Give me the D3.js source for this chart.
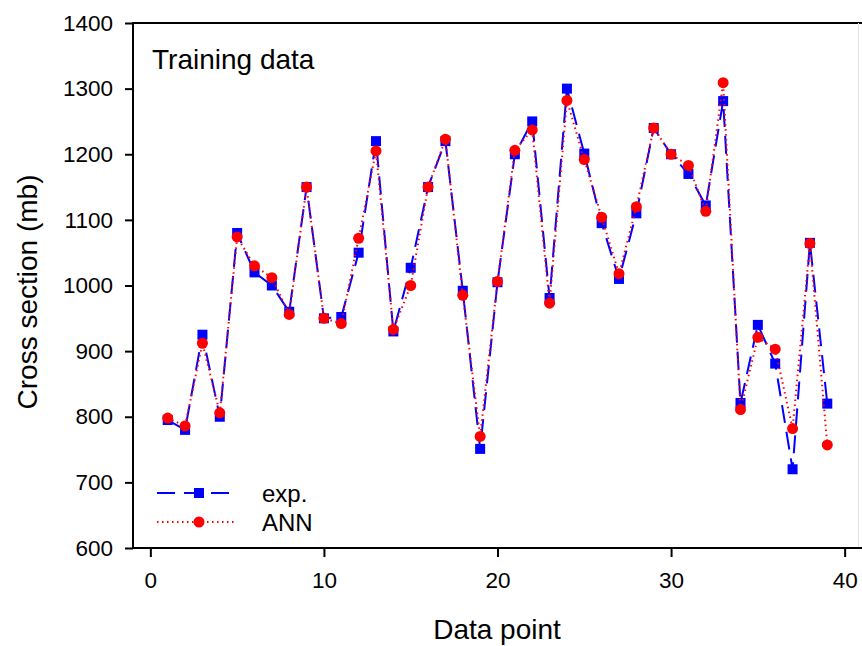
<!DOCTYPE html>
<html>
<head>
<meta charset="utf-8">
<script src="https://cdn.jsdelivr.net/npm/d3@7/dist/d3.min.js"></script>
<style>
  html, body { margin: 0; padding: 0; background: #fff; }
  svg { display: block; font-family: "Liberation Sans", Arial, sans-serif; }
</style>
</head>
<body>
<svg id="chart" width="862" height="646"></svg>
<script>
const dataPoints = d3.range(1, 40);
const expValues = [795, 780, 925, 800, 1080, 1020, 1000, 960, 1150, 950,
                   952, 1050, 1220, 930, 1027, 1150, 1220, 992, 751, 1005,
                   1200, 1250, 981, 1300, 1201, 1095, 1010, 1110, 1240, 1200,
                   1170, 1122, 1281, 821, 940, 881, 720, 1065, 820];
const annValues = [798, 786, 912, 806, 1074, 1030, 1012, 956, 1150, 950,
                   942, 1072, 1205, 933, 1000, 1150, 1223, 985, 770, 1006,
                   1206, 1237, 973, 1282, 1192, 1104, 1018, 1120, 1240, 1200,
                   1183, 1113, 1309, 811, 921, 903, 782, 1064, 757];
const xTicks = [0, 10, 20, 30, 40];
const yTicks = [600, 700, 800, 900, 1000, 1100, 1200, 1300, 1400];
const seriesNames = ["exp.", "ANN"];

const svg = d3.select("#chart");
const pLeft = 133, pRight = 862, pTop = 23, pBottom = 548;

const x = d3.scaleLinear().domain([-1, 41]).range([pLeft, pRight]);
const y = d3.scaleLinear().domain([600, 1400]).range([pBottom, pTop]);

// frame (top + faint right)
svg.append("line").attr("x1", pLeft).attr("x2", pRight).attr("y1", pTop).attr("y2", pTop)
  .attr("stroke", "#000").attr("stroke-width", 2);
svg.append("line").attr("x1", 858.5).attr("x2", 858.5).attr("y1", pTop).attr("y2", pBottom)
  .attr("stroke", "#e2e2e2").attr("stroke-width", 1);

// axes
const xAxis = svg.append("g").attr("transform", `translate(0,${pBottom})`)
  .call(d3.axisBottom(x).tickValues(xTicks).tickFormat(d3.format("d"))
    .tickSize(9).tickPadding(15).tickSizeOuter(0));
const yAxis = svg.append("g").attr("transform", `translate(${pLeft},0)`)
  .call(d3.axisLeft(y).tickValues(yTicks).tickFormat(d3.format("d"))
    .tickSize(8).tickPadding(12).tickSizeOuter(0));
[xAxis, yAxis].forEach(g => {
  g.select(".domain").attr("stroke", "#000").attr("stroke-width", 2);
  g.selectAll(".tick line").attr("stroke", "#000").attr("stroke-width", 2);
  g.selectAll(".tick text").attr("fill", "#000").attr("font-size", 22.5)
    .attr("font-family", "Liberation Sans, Arial, sans-serif");
});
xAxis.select(".domain").attr("d", `M${pLeft},0H${pRight}`);
yAxis.select(".domain").attr("d", `M0,${pBottom + 1}V${pTop - 1}`);

// axis titles
svg.append("text").attr("x", 497).attr("y", 639).attr("text-anchor", "middle")
  .attr("font-size", 28).attr("fill", "#000").text("Data point");
svg.append("text").attr("transform", `translate(37,292) rotate(-90)`).attr("text-anchor", "middle")
  .attr("font-size", 28).attr("fill", "#000").text("Cross section (mb)");

// annotation
svg.append("text").attr("x", 152).attr("y", 69).attr("font-size", 28).attr("fill", "#000")
  .text("Training data");

const blue = "#0000ff", red = "#ff0000";
const expData = dataPoints.map((d, i) => ({ x: d, y: expValues[i] }));
const annData = dataPoints.map((d, i) => ({ x: d, y: annValues[i] }));
const line = d3.line().x(d => x(d.x)).y(d => y(d.y));

// exp series
svg.append("path").datum(expData).attr("d", line).attr("fill", "none")
  .attr("stroke", blue).attr("stroke-width", 2).attr("stroke-dasharray", "18,9");
svg.append("g").selectAll("rect").data(expData).join("rect")
  .attr("x", d => x(d.x) - 5).attr("y", d => y(d.y) - 5)
  .attr("width", 10).attr("height", 10).attr("fill", blue);

// ANN series
svg.append("path").datum(annData).attr("d", line).attr("fill", "none")
  .attr("stroke", red).attr("stroke-width", 2).attr("stroke-dasharray", "1.5,3.5");
svg.append("g").selectAll("circle").data(annData).join("circle")
  .attr("cx", d => x(d.x)).attr("cy", d => y(d.y)).attr("r", 5.5).attr("fill", red);

// legend
const lg = svg.append("g");
const lx1 = 157, lx2 = 235, lmx = 199, textX = 262;
lg.append("line").attr("x1", lx1).attr("x2", lx2).attr("y1", 493).attr("y2", 493)
  .attr("stroke", blue).attr("stroke-width", 2).attr("stroke-dasharray", "18,9");
lg.append("rect").attr("x", lmx - 5).attr("y", 488).attr("width", 10).attr("height", 10).attr("fill", blue);
lg.append("text").attr("x", textX).attr("y", 502).attr("font-size", 24).attr("fill", "#000").text(seriesNames[0]);
lg.append("line").attr("x1", lx1).attr("x2", lx2).attr("y1", 522).attr("y2", 522)
  .attr("stroke", red).attr("stroke-width", 2).attr("stroke-dasharray", "1.5,3.5");
lg.append("circle").attr("cx", lmx).attr("cy", 522).attr("r", 5.5).attr("fill", red);
lg.append("text").attr("x", textX).attr("y", 531).attr("font-size", 24).attr("fill", "#000").text(seriesNames[1]);
</script>
</body>
</html>
